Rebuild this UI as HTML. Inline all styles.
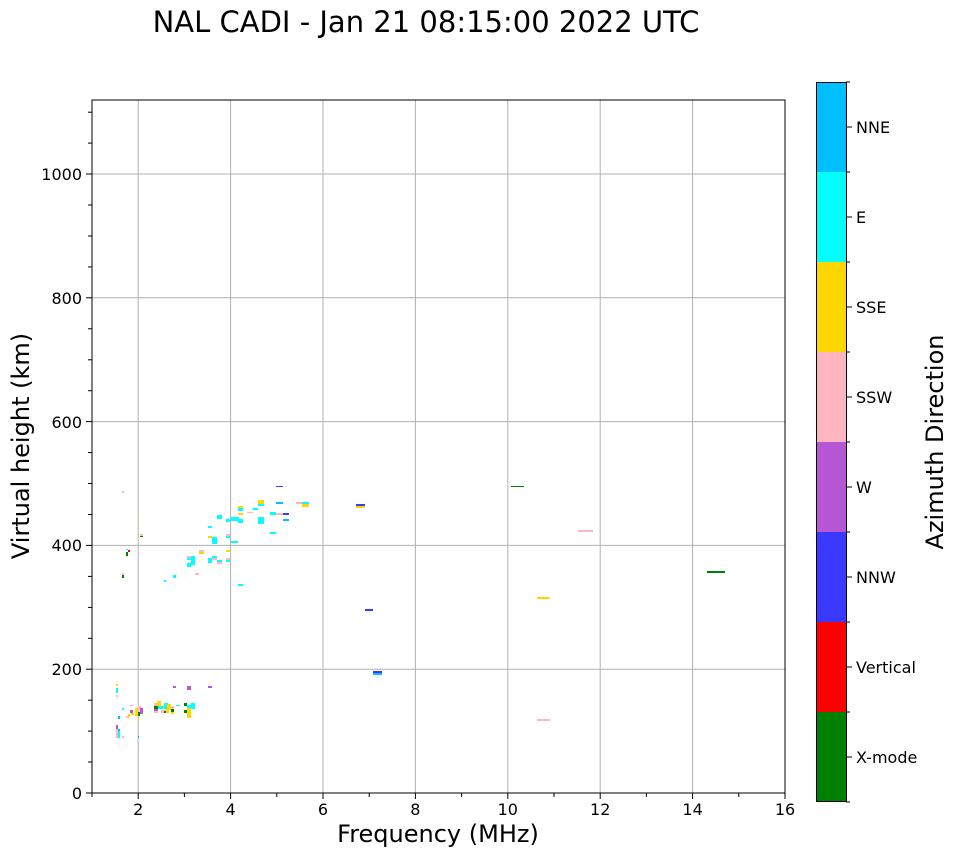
<!DOCTYPE html>
<html><head><meta charset="utf-8"><style>
body{margin:0;background:#fff;}
svg{display:block;font-family:"DejaVu Sans","Liberation Sans",sans-serif;}
</style></head><body>
<svg width="958" height="857" viewBox="0 0 958 857">
<rect width="958" height="857" fill="#fff"/>
<text x="426" y="32" font-size="29" text-anchor="middle">NAL CADI - Jan 21 08:15:00 2022 UTC</text>
<g stroke="#b0b0b0" stroke-width="1">
<line x1="138.2" y1="100" x2="138.2" y2="793"/><line x1="230.6" y1="100" x2="230.6" y2="793"/>
<line x1="323" y1="100" x2="323" y2="793"/><line x1="415.4" y1="100" x2="415.4" y2="793"/>
<line x1="507.8" y1="100" x2="507.8" y2="793"/><line x1="600.2" y1="100" x2="600.2" y2="793"/>
<line x1="692.6" y1="100" x2="692.6" y2="793"/>
<line x1="92" y1="669.2" x2="785" y2="669.2"/><line x1="92" y1="545.4" x2="785" y2="545.4"/>
<line x1="92" y1="421.6" x2="785" y2="421.6"/><line x1="92" y1="297.8" x2="785" y2="297.8"/>
<line x1="92" y1="174" x2="785" y2="174"/>
</g>
<g shape-rendering="crispEdges">
<rect x="122" y="491" width="2" height="2" fill="#ffb6c1"/>
<rect x="138" y="517" width="1" height="1" fill="#ffd700"/><rect x="138" y="523" width="1" height="1" fill="#ffd700"/>
<rect x="140" y="534" width="3" height="2" fill="#ffb6c1"/><rect x="140" y="536" width="3" height="1" fill="#008000"/>
<rect x="126" y="549" width="2" height="1" fill="#00ffff"/><rect x="128" y="550" width="2" height="2" fill="#ff0000"/><rect x="126" y="552" width="2" height="4" fill="#008000"/>
<rect x="122" y="573" width="2" height="2" fill="#ffb6c1"/><rect x="122" y="575" width="2" height="3" fill="#008000"/>
<rect x="164" y="580" width="2" height="2" fill="#00ffff"/><rect x="173" y="575" width="3" height="3" fill="#00ffff"/>
<rect x="195" y="573" width="4" height="2" fill="#ffb6c1"/>
<rect x="276" y="486" width="7" height="1" fill="#3a3aff"/>
<rect x="276" y="502" width="7" height="2" fill="#00bfff"/>
<rect x="258" y="500" width="6" height="4" fill="#ffd700"/><rect x="258" y="504" width="6" height="2" fill="#00ffff"/>
<rect x="296" y="502" width="7" height="2" fill="#ffb6c1"/><rect x="302" y="502" width="7" height="2" fill="#00ffff"/><rect x="302" y="504" width="7" height="3" fill="#ffd700"/>
<rect x="238" y="506" width="5" height="2" fill="#ffd700"/><rect x="238" y="508" width="5" height="3" fill="#00ffff"/>
<rect x="253" y="508" width="5" height="2" fill="#00ffff"/><rect x="247" y="512" width="6" height="1" fill="#ffb6c1"/>
<rect x="238" y="513" width="5" height="2" fill="#ffd700"/>
<rect x="270" y="512" width="6" height="3" fill="#00ffff"/><rect x="276" y="513" width="7" height="2" fill="#ffb6c1"/><rect x="283" y="513" width="6" height="2" fill="#3a3aff"/>
<rect x="283" y="519" width="6" height="2" fill="#00bfff"/>
<rect x="217" y="515" width="5" height="4" fill="#00ffff"/><rect x="226" y="519" width="4" height="3" fill="#00ffff"/>
<rect x="231" y="517" width="8" height="4" fill="#00ffff"/><rect x="238" y="519" width="5" height="4" fill="#00ffff"/>
<rect x="258" y="517" width="6" height="7" fill="#00ffff"/>
<rect x="208" y="526" width="4" height="2" fill="#00ffff"/><rect x="270" y="532" width="6" height="2" fill="#00ffff"/>
<rect x="208" y="536" width="4" height="2" fill="#ffd700"/><rect x="212" y="537" width="5" height="7" fill="#00ffff"/>
<rect x="226" y="534" width="4" height="2" fill="#ffb6c1"/><rect x="226" y="536" width="4" height="2" fill="#00ffff"/>
<rect x="231" y="541" width="7" height="2" fill="#00ffff"/>
<rect x="226" y="550" width="4" height="2" fill="#ffd700"/>
<rect x="199" y="550" width="5" height="2" fill="#ffb6c1"/><rect x="199" y="552" width="5" height="2" fill="#ffd700"/>
<rect x="187" y="556" width="4" height="2" fill="#ffb6c1"/><rect x="187" y="558" width="4" height="2" fill="#00ffff"/>
<rect x="191" y="556" width="4" height="9" fill="#00ffff"/><rect x="187" y="563" width="4" height="4" fill="#00ffff"/>
<rect x="212" y="556" width="5" height="2" fill="#00ffff"/><rect x="212" y="558" width="5" height="2" fill="#ffb6c1"/>
<rect x="208" y="558" width="4" height="5" fill="#00ffff"/>
<rect x="217" y="560" width="5" height="2" fill="#00ffff"/><rect x="217" y="562" width="5" height="2" fill="#ffb6c1"/>
<rect x="226" y="558" width="4" height="2" fill="#ffb6c1"/><rect x="226" y="560" width="4" height="2" fill="#00ffff"/>
<rect x="238" y="584" width="5" height="2" fill="#00ffff"/>
<rect x="116" y="684" width="2" height="2" fill="#ffd700"/><rect x="116" y="688" width="2" height="5" fill="#00ffff"/><rect x="116" y="695" width="2" height="2" fill="#ffb6c1"/>
<rect x="173" y="686" width="3" height="2" fill="#b857d6"/><rect x="187" y="686" width="4" height="4" fill="#b857d6"/><rect x="208" y="686" width="4" height="2" fill="#b857d6"/>
<rect x="122" y="708" width="2" height="2" fill="#00ffff"/><rect x="130" y="705" width="3" height="1" fill="#ffb6c1"/>
<rect x="118" y="716" width="2" height="3" fill="#00bfff"/>
<rect x="126" y="716" width="3" height="2" fill="#ffb6c1"/><rect x="128" y="714" width="2" height="3" fill="#ffd700"/>
<rect x="130" y="710" width="3" height="3" fill="#b857d6"/><rect x="131" y="713" width="3" height="2" fill="#ffd700"/>
<rect x="135" y="708" width="3" height="8" fill="#ffd700"/><rect x="138" y="706" width="3" height="3" fill="#ffb6c1"/>
<rect x="140" y="708" width="3" height="6" fill="#b857d6"/><rect x="138" y="712" width="2" height="4" fill="#008000"/>
<rect x="138" y="718" width="1" height="3" fill="#ffd700"/>
<rect x="154" y="703" width="4" height="10" fill="#ffb6c1"/><rect x="154" y="706" width="4" height="3" fill="#008000"/><rect x="154" y="709" width="4" height="2" fill="#b857d6"/>
<rect x="157" y="701" width="4" height="5" fill="#ffd700"/><rect x="158" y="706" width="5" height="3" fill="#00ffff"/>
<rect x="163" y="706" width="3" height="3" fill="#ffd700"/><rect x="164" y="703" width="4" height="6" fill="#00ffff"/>
<rect x="167" y="704" width="4" height="6" fill="#ffd700"/><rect x="166" y="709" width="3" height="4" fill="#ffd700"/>
<rect x="161" y="710" width="5" height="3" fill="#ffb6c1"/><rect x="164" y="711" width="2" height="2" fill="#008000"/>
<rect x="171" y="706" width="3" height="4" fill="#ffb6c1"/><rect x="171" y="709" width="3" height="3" fill="#008000"/><rect x="171" y="712" width="3" height="2" fill="#ffd700"/>
<rect x="176" y="705" width="4" height="1" fill="#00ffff"/>
<rect x="184" y="703" width="3" height="3" fill="#008000"/><rect x="184" y="710" width="3" height="3" fill="#008000"/>
<rect x="187" y="705" width="4" height="3" fill="#00ffff"/><rect x="191" y="703" width="4" height="6" fill="#00ffff"/>
<rect x="187" y="708" width="4" height="10" fill="#ffd700"/>
<rect x="116" y="725" width="2" height="4" fill="#b857d6"/><rect x="116" y="729" width="2" height="9" fill="#ffb6c1"/>
<rect x="118" y="731" width="2" height="7" fill="#00ffff"/><rect x="118" y="729" width="2" height="2" fill="#00bfff"/>
<rect x="122" y="736" width="2" height="2" fill="#ffb6c1"/><rect x="138" y="736" width="1" height="2" fill="#00bfff"/>
<rect x="356" y="504" width="9" height="2" fill="#3a3aff"/><rect x="356" y="506" width="9" height="2" fill="#ffd700"/>
<rect x="511" y="486" width="13" height="1" fill="#008000"/>
<rect x="578" y="530" width="15" height="2" fill="#ffb6c1"/>
<rect x="707" y="571" width="18" height="2" fill="#008000"/>
<rect x="537" y="597" width="13" height="2" fill="#ffd700"/>
<rect x="365" y="609" width="8" height="2" fill="#3a3aff"/>
<rect x="373" y="671" width="9" height="2" fill="#3a3aff"/><rect x="373" y="673" width="9" height="2" fill="#00bfff"/>
<rect x="537" y="719" width="13" height="2" fill="#ffb6c1"/>
</g>
<rect x="92" y="100" width="693" height="693" fill="none" stroke="#000" stroke-width="1"/>
<g stroke="#000" stroke-width="1">
<line x1="138.2" y1="793" x2="138.2" y2="799"/><line x1="230.6" y1="793" x2="230.6" y2="799"/><line x1="323" y1="793" x2="323" y2="799"/><line x1="415.4" y1="793" x2="415.4" y2="799"/><line x1="507.8" y1="793" x2="507.8" y2="799"/><line x1="600.2" y1="793" x2="600.2" y2="799"/><line x1="692.6" y1="793" x2="692.6" y2="799"/><line x1="785" y1="793" x2="785" y2="799"/>
<line x1="92" y1="793" x2="92" y2="797"/><line x1="184.4" y1="793" x2="184.4" y2="797"/><line x1="276.8" y1="793" x2="276.8" y2="797"/><line x1="369.2" y1="793" x2="369.2" y2="797"/><line x1="461.6" y1="793" x2="461.6" y2="797"/><line x1="554" y1="793" x2="554" y2="797"/><line x1="646.4" y1="793" x2="646.4" y2="797"/><line x1="738.8" y1="793" x2="738.8" y2="797"/>
<line x1="86" y1="793" x2="92" y2="793"/><line x1="86" y1="669.2" x2="92" y2="669.2"/><line x1="86" y1="545.4" x2="92" y2="545.4"/><line x1="86" y1="421.6" x2="92" y2="421.6"/><line x1="86" y1="297.8" x2="92" y2="297.8"/><line x1="86" y1="174" x2="92" y2="174"/>
<line x1="88" y1="762" x2="92" y2="762"/><line x1="88" y1="731.1" x2="92" y2="731.1"/><line x1="88" y1="700.2" x2="92" y2="700.2"/><line x1="88" y1="638.3" x2="92" y2="638.3"/><line x1="88" y1="607.4" x2="92" y2="607.4"/><line x1="88" y1="576.4" x2="92" y2="576.4"/><line x1="88" y1="514.5" x2="92" y2="514.5"/><line x1="88" y1="483.5" x2="92" y2="483.5"/><line x1="88" y1="452.6" x2="92" y2="452.6"/><line x1="88" y1="390.7" x2="92" y2="390.7"/><line x1="88" y1="359.8" x2="92" y2="359.8"/><line x1="88" y1="328.8" x2="92" y2="328.8"/><line x1="88" y1="266.9" x2="92" y2="266.9"/><line x1="88" y1="236" x2="92" y2="236"/><line x1="88" y1="205" x2="92" y2="205"/><line x1="88" y1="143.1" x2="92" y2="143.1"/><line x1="88" y1="112.2" x2="92" y2="112.2"/>
</g>
<g font-size="16" text-anchor="middle">
<text x="138.2" y="815">2</text><text x="230.6" y="815">4</text><text x="323" y="815">6</text><text x="415.4" y="815">8</text><text x="507.8" y="815">10</text><text x="600.2" y="815">12</text><text x="692.6" y="815">14</text><text x="785" y="815">16</text>
</g>
<g font-size="16" text-anchor="end">
<text x="82" y="799">0</text><text x="82" y="675">200</text><text x="82" y="551">400</text><text x="82" y="428">600</text><text x="82" y="304">800</text><text x="82" y="180">1000</text>
</g>
<text x="438" y="842" font-size="24" text-anchor="middle">Frequency (MHz)</text>
<text transform="translate(29,446) rotate(-90)" font-size="24" text-anchor="middle">Virtual height (km)</text>
<g shape-rendering="crispEdges">
<rect x="816" y="82" width="30" height="90" fill="#00bfff"/>
<rect x="816" y="172" width="30" height="90" fill="#00ffff"/>
<rect x="816" y="262" width="30" height="90" fill="#ffd700"/>
<rect x="816" y="352" width="30" height="90" fill="#ffb6c1"/>
<rect x="816" y="442" width="30" height="90" fill="#b857d6"/>
<rect x="816" y="532" width="30" height="90" fill="#3a3aff"/>
<rect x="816" y="622" width="30" height="90" fill="#ff0000"/>
<rect x="816" y="712" width="30" height="90" fill="#008000"/>
</g>
<rect x="816.5" y="82.5" width="30" height="719" fill="none" stroke="#000" stroke-width="1"/>
<g stroke="#000" stroke-width="1">
<line x1="846" y1="82" x2="850" y2="82"/><line x1="846" y1="172" x2="850" y2="172"/><line x1="846" y1="262" x2="850" y2="262"/><line x1="846" y1="352" x2="850" y2="352"/><line x1="846" y1="442" x2="850" y2="442"/><line x1="846" y1="532" x2="850" y2="532"/><line x1="846" y1="622" x2="850" y2="622"/><line x1="846" y1="712" x2="850" y2="712"/><line x1="846" y1="802" x2="850" y2="802"/>
<line x1="846" y1="127" x2="852" y2="127"/><line x1="846" y1="217" x2="852" y2="217"/><line x1="846" y1="307" x2="852" y2="307"/><line x1="846" y1="397" x2="852" y2="397"/><line x1="846" y1="487" x2="852" y2="487"/><line x1="846" y1="577" x2="852" y2="577"/><line x1="846" y1="667" x2="852" y2="667"/><line x1="846" y1="757" x2="852" y2="757"/>
</g>
<g font-size="16">
<text x="856" y="133">NNE</text><text x="856" y="223">E</text><text x="856" y="313">SSE</text><text x="856" y="403">SSW</text><text x="856" y="493">W</text><text x="856" y="583">NNW</text><text x="856" y="673">Vertical</text><text x="856" y="763">X-mode</text>
</g>
<text transform="translate(943,442) rotate(-90)" font-size="24" text-anchor="middle">Azimuth Direction</text>
</svg>
</body></html>
